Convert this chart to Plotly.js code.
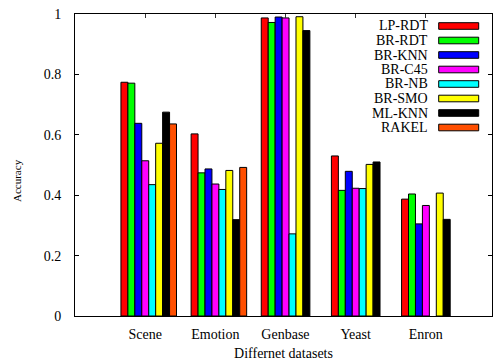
<!DOCTYPE html>
<html>
<head>
<meta charset="utf-8">
<script src="https://cdn.plot.ly/plotly-3.0.1.min.js"></script>
<style>html,body{margin:0;padding:0;background:#fff;}#chart{width:493px;height:361px;}</style>
</head>
<body>
<div id="chart"></div>
<script>
// ---- data ----
const categories = ['Scene', 'Emotion', 'Genbase', 'Yeast', 'Enron'];
const seriesNames = ['LP-RDT', 'BR-RDT', 'BR-KNN', 'BR-C45', 'BR-NB', 'BR-SMO', 'ML-KNN', 'RAKEL'];
const lpRdt = [0.774, 0.603, 0.987, 0.530, 0.387];
const brRdt = [0.771, 0.474, 0.972, 0.416, 0.404];
const brKnn = [0.638, 0.487, 0.990, 0.479, 0.305];
const brC45 = [0.514, 0.437, 0.987, 0.423, 0.366];
const brNb  = [0.435, 0.419, 0.272, 0.422, null];
const brSmo = [0.572, 0.482, 0.991, 0.502, 0.407];
const mlKnn = [0.675, 0.319, 0.945, 0.510, 0.320];
const rakel = [0.636, 0.492, null, null, null];
const seriesValues = [lpRdt, brRdt, brKnn, brC45, brNb, brSmo, mlKnn, rakel];
const yTickVals = [0, 0.2, 0.4, 0.6, 0.8, 1];

// ---- styles ----
const colors = ['#ff0000', '#00ff00', '#0000ff', '#ff00ff', '#00ffff', '#ffff00', '#000000', '#ff4f00'];
const serif = 'Liberation Serif';
const catIdx = categories.map((c, i) => i);
const tickShift = 0.051;

const traces = seriesNames.map((name, k) => ({
  type: 'bar',
  name: name,
  x: catIdx,
  y: seriesValues[k],
  marker: {color: colors[k], line: {color: '#000', width: 1}},
  showlegend: false,
  hoverinfo: 'name+y'
}));

// custom legend (text left of swatch, as in reference)
const plotL = 75, plotR = 492, plotT = 14, plotB = 316;
const pw = plotR - plotL, ph = plotB - plotT;
const annotations = [], shapes = [];
seriesNames.forEach((name, k) => {
  const yc = (plotB - (26 + 14.5 * k)) / ph;
  annotations.push({
    xref: 'paper', yref: 'paper', x: (429.5 - plotL) / pw, y: yc,
    xanchor: 'right', yanchor: 'middle', showarrow: false, text: name,
    font: {family: serif, size: 14, color: '#000'}
  });
  shapes.push({
    type: 'rect', xref: 'paper', yref: 'paper',
    x0: (438.7 - plotL) / pw, x1: (478.7 - plotL) / pw,
    y0: yc - 3.3 / ph, y1: yc + 3.3 / ph,
    fillcolor: colors[k], line: {color: '#000', width: 1}
  });
});
annotations.push({
  xref: 'paper', yref: 'paper', x: (17 - plotL) / pw, y: (plotB - 181) / ph,
  xanchor: 'center', yanchor: 'middle', showarrow: false, textangle: -90,
  text: 'Accuracy', font: {family: serif, size: 11, color: '#000'}
});

const xRange = [-1.051, 4.893];
const layout = {
  width: 493, height: 361,
  margin: {l: plotL, r: 493 - plotR, t: plotT, b: 361 - plotB},
  paper_bgcolor: '#fff', plot_bgcolor: '#fff',
  barmode: 'group', bargap: 0.208, bargroupgap: 0,
  font: {family: serif, size: 13, color: '#000'},
  xaxis: {
    range: xRange, tickvals: catIdx.map(i => i - tickShift), ticktext: categories,
    ticks: '', showline: true, mirror: true, linecolor: '#000', linewidth: 1,
    showgrid: false, zeroline: false, ticklabelstandoff: 5,
    tickfont: {family: serif, size: 14, color: '#000'},
    title: {text: 'Differnet datasets', font: {family: serif, size: 14, color: '#000'}, standoff: 8}
  },
  xaxis2: {
    overlaying: 'x', side: 'top', anchor: 'y', range: xRange,
    tickvals: catIdx.map(i => i - tickShift), ticks: 'inside', ticklen: 4,
    tickcolor: '#333', showticklabels: false, showline: false, showgrid: false, zeroline: false
  },
  yaxis: {
    range: [0, 1], tickvals: yTickVals, ticks: 'inside', ticklen: 4, tickcolor: '#000',
    showline: true, mirror: 'ticks', linecolor: '#000', linewidth: 1,
    showgrid: false, zeroline: false, ticklabelstandoff: 10,
    tickfont: {family: serif, size: 14, color: '#000'}
  },
  annotations: annotations,
  shapes: shapes
};
// an invisible trace to activate the top axis
traces.push({type: 'scatter', x: [], y: [], xaxis: 'x2', yaxis: 'y', showlegend: false, hoverinfo: 'skip'});

Plotly.newPlot('chart', traces, layout, {displayModeBar: false, staticPlot: true});
</script>
</body>
</html>
